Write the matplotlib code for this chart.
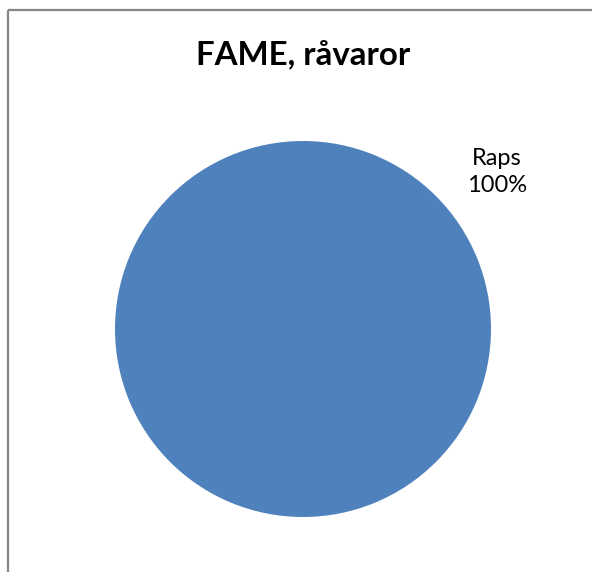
import matplotlib
matplotlib.use('Agg')
import matplotlib.pyplot as plt
from matplotlib.patches import Rectangle

# ----- Data -----
title = 'FAME, råvaror'
categories = ['Raps']
shares = [100]

# ----- Plot -----
W, H = 592, 572
fig = plt.figure(figsize=(W / 100, H / 100), dpi=100)
ax = fig.add_axes([0, 0, 1, 1])
ax.axis('off')

# chart border (cut off at right/bottom like the reference)
ax.add_patch(Rectangle((7.5, 9.5), 700, 700, fill=False,
                       edgecolor='#868686', linewidth=1.6))

ax.pie(shares, colors=['#4F81BD'], center=(303, 329), radius=188,
       startangle=90, counterclock=False,
       wedgeprops=dict(linewidth=0))
ax.set_aspect('auto')
ax.set_xlim(0, W)
ax.set_ylim(H, 0)

ax.text(303, 54, title, ha='center', va='center',
        fontsize=23.8, fontweight='bold', family='Lato', color='black')

for cat, val in zip(categories, shares):
    ax.text(497, 172, f'{cat}\n{val}%', ha='center', va='center',
            fontsize=17, family='Lato', color='black', linespacing=1.3)

fig.savefig('out.png', dpi=100)
